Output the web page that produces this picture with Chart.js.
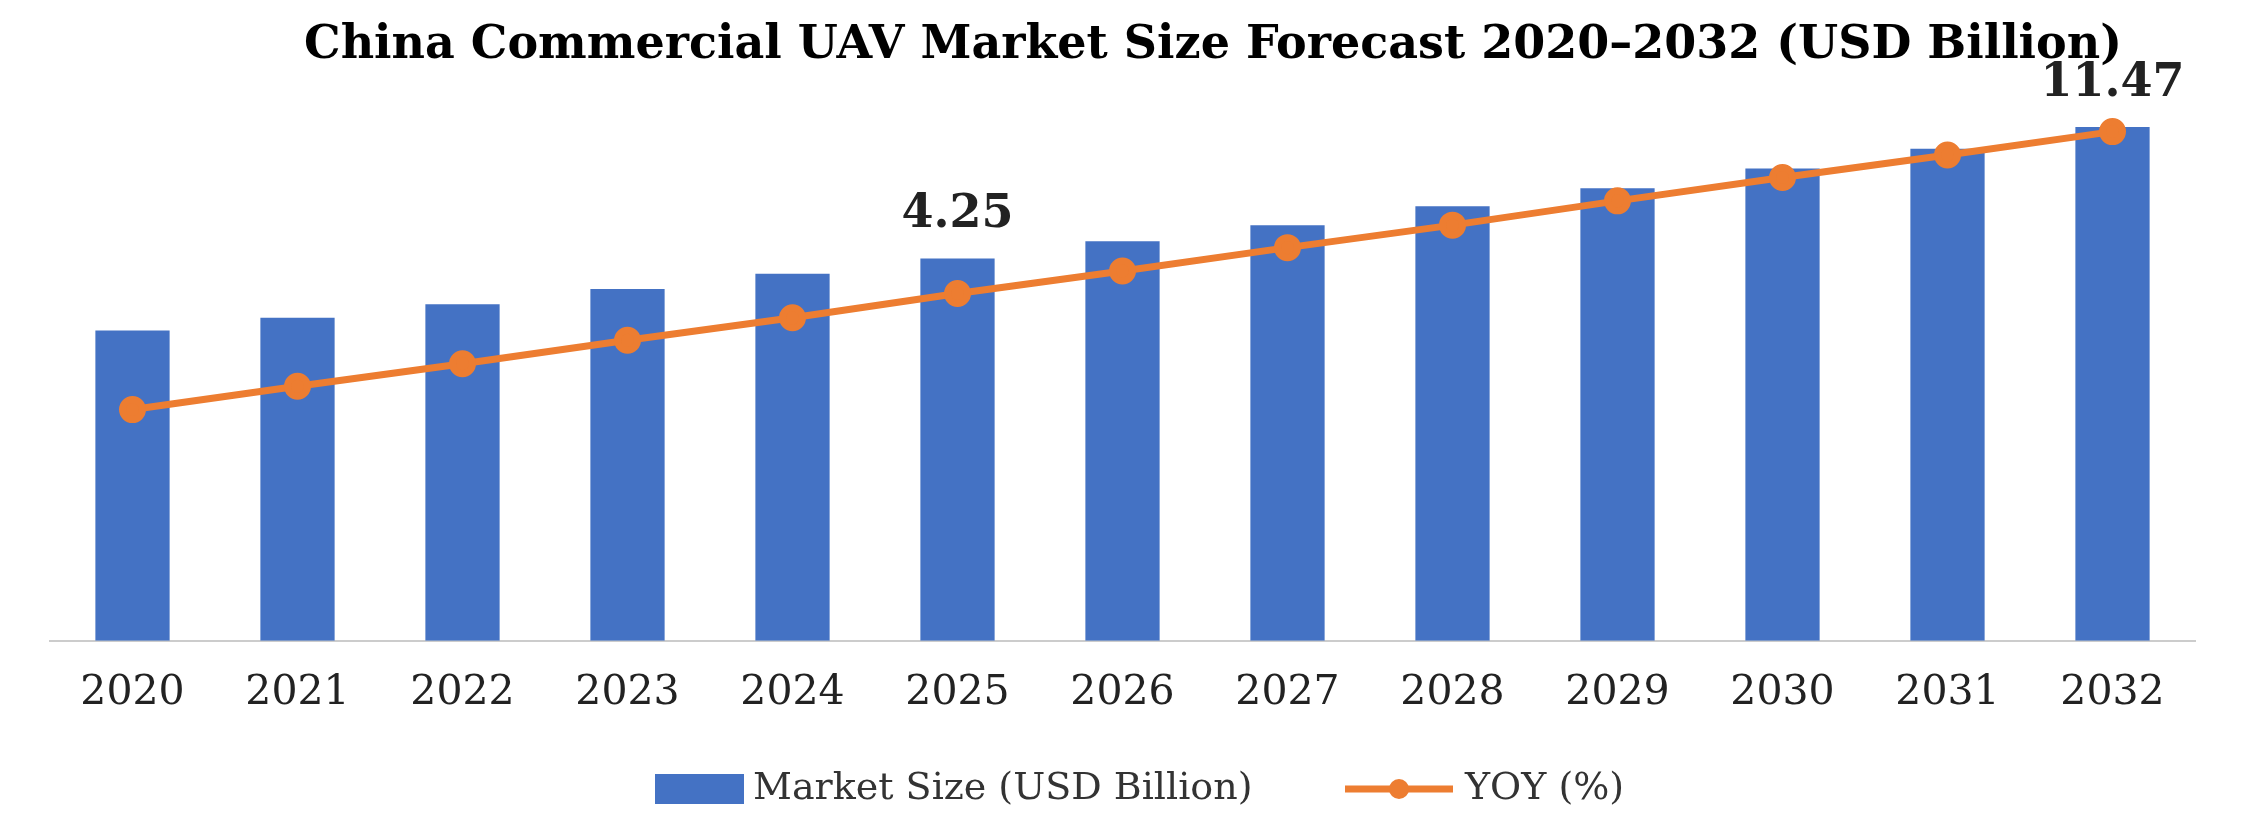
<!DOCTYPE html>
<html><head><meta charset="utf-8">
<script src="https://cdn.jsdelivr.net/npm/chart.js@4/dist/chart.umd.min.js"></script>
<style>body{margin:0;background:#fff}</style></head>
<body><canvas id="c" width="2245" height="828"></canvas>
<script>
const categories=["2020","2021","2022","2023","2024","2025","2026","2027","2028","2029","2030","2031","2032"];
const marketSize=[3.45,3.59,3.74,3.91,4.08,4.25,4.44,4.62,4.83,5.03,5.25,5.47,5.71];
const yoy=[2.57,2.83,3.08,3.34,3.59,3.86,4.11,4.37,4.62,4.89,5.15,5.40,5.66];
const barLabels=["","","","","","4.25","","","","","","","11.47"];
const titleText='China Commercial UAV Market Size Forecast 2020–2032 (USD Billion)';
const labelPlugin={id:'lbl',afterDraw(ch){const ctx=ch.ctx;const m=ch.getDatasetMeta(1);ctx.save();
ctx.font='bold 46px "DejaVu Serif"';ctx.fillStyle='#222';ctx.textAlign='center';ctx.textBaseline='bottom';
m.data.forEach((b,i)=>{if(barLabels[i])ctx.fillText(barLabels[i],b.x,b.y-20);});
ctx.font='bold 46px "DejaVu Serif"';ctx.fillStyle='#000';ctx.textBaseline='middle';ctx.fillText(titleText,1213,46);
// legend
const ly=789;ctx.fillStyle='#4472C4';ctx.fillRect(655,ly-15,89,30);
ctx.font='38px "DejaVu Serif"';ctx.fillStyle='#333';ctx.textAlign='left';ctx.fillText('Market Size (USD Billion)',753,ly);
ctx.strokeStyle='#ED7D31';ctx.lineWidth=7;ctx.beginPath();ctx.moveTo(1345,ly);ctx.lineTo(1453,ly);ctx.stroke();
ctx.fillStyle='#ED7D31';ctx.beginPath();ctx.arc(1399,ly,10,0,Math.PI*2);ctx.fill();
ctx.fillStyle='#333';ctx.fillText('YOY (%)',1465,ly);
ctx.restore();}};
new Chart(document.getElementById('c'),{
data:{labels:categories,datasets:[
{type:'line',label:'YOY (%)',data:yoy,borderColor:'#ED7D31',backgroundColor:'#ED7D31',borderWidth:7,pointRadius:10,pointHoverRadius:10,yAxisID:'y2',order:0},
{type:'bar',label:'Market Size (USD Billion)',data:marketSize,backgroundColor:'#4472C4',categoryPercentage:0.9,barPercentage:0.5,yAxisID:'y',order:1}]},
options:{responsive:false,devicePixelRatio:1,animation:false,
layout:{padding:{left:50,right:50,top:110,bottom:90}},
plugins:{title:{display:false},legend:{display:false},tooltip:{enabled:false}},
scales:{x:{grid:{display:false},border:{color:'#ccc',width:2},ticks:{font:{family:'"DejaVu Serif"',size:41},color:'#222',padding:20}},
y:{display:false,min:0,max:5.9},y2:{display:false,min:0,max:5.9}}},
plugins:[labelPlugin]});
</script></body></html>
